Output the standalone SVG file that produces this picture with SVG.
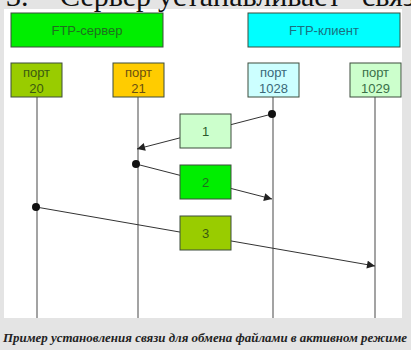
<svg xmlns="http://www.w3.org/2000/svg" width="411" height="350" viewBox="0 0 411 350">
<defs>
<style>
.box{stroke:#3d4d3d;stroke-width:1}
.t{font-family:"Liberation Sans",Arial,sans-serif;font-size:13px;text-anchor:middle}
.ln{stroke:#666;stroke-width:1.2;fill:none}
.ar{stroke:#333;stroke-width:1;fill:none;marker-end:url(#ah)}
.hd{font-family:"Liberation Serif","Times New Roman",serif;font-size:30px;fill:#111}
</style>
<marker id="ah" viewBox="0 0 10 10" refX="10" refY="5" markerWidth="10" markerHeight="8" orient="auto" markerUnits="userSpaceOnUse">
<path d="M0,0 L10,5 L0,10 z" fill="#222"/>
</marker>
</defs>
<rect x="0" y="0" width="411" height="350" fill="#e4e4e4"/>
<rect x="4" y="9" width="398" height="309" fill="#ffffff"/>
<text class="hd" y="6"><tspan x="6">3.</tspan><tspan x="60">Сервер</tspan><tspan x="158">устанавливает</tspan><tspan x="362">связь</tspan></text>
<g id="lifelines">
<line class="ln" x1="37" y1="97" x2="37" y2="318"/>
<line class="ln" x1="138" y1="97" x2="138" y2="318"/>
<line class="ln" x1="273" y1="97" x2="273" y2="318"/>
<line class="ln" x1="375" y1="97" x2="375" y2="318"/>
</g>
<g id="ftp-server"><rect class="box" x="11" y="13" width="152" height="34" fill="#00ee00"/><text class="t" x="87" y="35" fill="#1f6e1f">FTP-сервер</text></g>
<g id="ftp-client"><rect class="box" x="248" y="13" width="152" height="34" fill="#00ffff"/><text class="t" x="324" y="35" fill="#1a7080">FTP-клиент</text></g>
<g id="port20"><rect class="box" x="11" y="63" width="51" height="34" fill="#99cc00"/><text class="t" x="36.5" y="77" fill="#3b5a10">порт</text><text class="t" x="36.5" y="93" fill="#3b5a10">20</text></g>
<g id="port21"><rect class="box" x="113" y="63" width="51" height="34" fill="#ffcc00"/><text class="t" x="138.5" y="77" fill="#6a5010">порт</text><text class="t" x="138.5" y="93" fill="#6a5010">21</text></g>
<g id="port1028"><rect class="box" x="248" y="63" width="51" height="34" fill="#ccffff"/><text class="t" x="273.5" y="77" fill="#3a6878">порт</text><text class="t" x="273.5" y="93" fill="#3a6878">1028</text></g>
<g id="port1029"><rect class="box" x="350" y="63" width="51" height="34" fill="#ccffcc"/><text class="t" x="375.5" y="77" fill="#3a7048">порт</text><text class="t" x="375.5" y="93" fill="#3a7048">1029</text></g>
<g id="connectors">
<line class="ar" x1="272" y1="114" x2="137" y2="149"/>
<circle cx="272" cy="114" r="4" fill="#111"/>
<line class="ar" x1="136" y1="164" x2="272" y2="199"/>
<circle cx="136" cy="164" r="4" fill="#111"/>
<line class="ar" x1="36" y1="207" x2="375" y2="266"/>
<circle cx="36" cy="207" r="4" fill="#111"/>
</g>
<g id="label1"><rect class="box" x="180" y="114" width="51" height="34" fill="#ccffcc"/><text class="t" x="205.5" y="136" fill="#2a5a2a">1</text></g>
<g id="label2"><rect class="box" x="180" y="165" width="51" height="34" fill="#00ee00"/><text class="t" x="205.5" y="187" fill="#1f6e1f">2</text></g>
<g id="label3"><rect class="box" x="180" y="216" width="51" height="34" fill="#99cc00"/><text class="t" x="205.5" y="238" fill="#3b5a10">3</text></g>
<text x="3" y="342" font-family="'Liberation Serif','Times New Roman',serif" font-size="11.5" font-weight="bold" font-style="italic" fill="#222" textLength="404" lengthAdjust="spacingAndGlyphs">Пример установления связи для обмена файлами в активном режиме</text>
</svg>
